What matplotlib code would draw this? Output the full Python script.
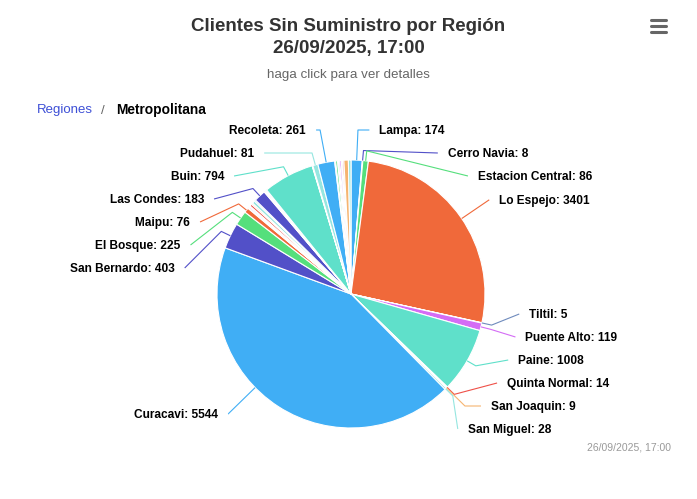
import numpy as np
import matplotlib.pyplot as plt

# datos: clientes sin suministro por comuna (Región Metropolitana)
comunas = ["Lampa", "Cerro Navia", "Estacion Central", "Lo Espejo", "Tiltil",
           "Puente Alto", "Paine", "Quinta Normal", "San Joaquin", "San Miguel",
           "Curacavi", "San Bernardo", "El Bosque", "Maipu", "Santiago",
           "Providencia", "Nunoa", "La Florida", "Penalolen", "La Reina",
           "Macul", "Las Condes", "Vitacura", "Lo Barnechea", "Huechuraba",
           "Conchali", "Buin", "Independencia", "Quilicura", "Pudahuel",
           "Recoleta", "Renca", "Lo Prado", "Cerrillos", "Pedro Aguirre Cerda",
           "La Cisterna", "San Ramon", "La Granja", "La Pintana", "Colina"]
clientes = [174, 8, 86, 3401, 5,
            119, 1008, 14, 9, 28,
            5544, 403, 225, 76, 12,
            20, 15, 35, 22, 45,
            21, 183, 10, 16, 8,
            14, 794, 6, 4, 81,
            261, 15, 30, 12, 20,
            25, 18, 22, 70, 40]
# etiquetas que el grafico alcanza a mostrar
etiquetadas = ["Lampa", "Cerro Navia", "Estacion Central", "Lo Espejo", "Tiltil",
               "Puente Alto", "Paine", "Quinta Normal", "San Joaquin", "San Miguel",
               "Curacavi", "San Bernardo", "El Bosque", "Maipu", "Las Condes",
               "Buin", "Pudahuel", "Recoleta"]

paleta = ["#40aef5", "#5250c8", "#55df7c", "#f0693a", "#6f8bbd",
          "#d46cf5", "#5fe0ca", "#ef5048", "#f6b470", "#95e6e0"]
colores = [paleta[i % len(paleta)] for i in range(len(clientes))]

W, H = 697, 499
cx, cy, r = 351, 294, 134          # centro y radio de la torta (px, y hacia abajo)
lcy, lR = 298, 169                 # circulo de etiquetas
dist = 30
sep = 23
limites = {"der": (130, 429), "izq": (130, 414)}

fig = plt.figure(figsize=(W / 100, H / 100), dpi=100)
ax = fig.add_axes([0, 0, 1, 1])
ax.pie(clientes, colors=colores, startangle=90, counterclock=False,
       radius=r, center=(cx, H - cy),
       wedgeprops=dict(edgecolor="white", linewidth=0.8))
ax.set_xlim(0, W)
ax.set_ylim(0, H)
ax.set_aspect("equal")
ax.axis("off")

fuente = "Liberation Sans"

def punto(ang, rr):
    a = np.radians(ang)
    return cx + rr * np.sin(a), cy - rr * np.cos(a)

total = sum(clientes)
acum = np.cumsum([0] + clientes)
ini = acum[:-1] / total * 360
fin = acum[1:] / total * 360
medio = (ini + fin) / 2


def repartir(objetivos, arriba, abajo):
    grupos = [[t] for t in objetivos]

    def comienzo(g):
        s = np.mean(g) - sep * (len(g) - 1) / 2
        return min(max(s, arriba), abajo - sep * (len(g) - 1))

    i = 0
    while i < len(grupos) - 1:
        f = comienzo(grupos[i]) + sep * (len(grupos[i]) - 1)
        if comienzo(grupos[i + 1]) - f < sep:
            grupos[i] += grupos.pop(i + 1)
            i = max(i - 1, 0)
        else:
            i += 1
    pos = []
    for g in grupos:
        s = comienzo(g)
        pos += [s + sep * k for k in range(len(g))]
    return pos


idx = [comunas.index(c) for c in etiquetadas]
for lado in ["der", "izq"]:
    sel = [i for i in idx if (medio[i] < 180) == (lado == "der")]
    obj = {i: cy - (r + dist) * np.cos(np.radians(medio[i])) for i in sel}
    sel.sort(key=lambda i: obj[i])
    ys = repartir([obj[i] for i in sel], *limites[lado])
    signo = 1 if lado == "der" else -1
    for i, y in zip(sel, ys):
        ang = medio[i]
        # x de la etiqueta sobre el circulo de etiquetas
        x = cx + signo * np.sqrt(max(lR ** 2 - (y - lcy) ** 2, 0))
        # punto del rayo del sector a la altura de la etiqueta
        dy = cy - y
        crookX = cx + dy * np.tan(np.radians(ang))
        if y < cy:
            if lado == "der":
                x = max(x, crookX + 4)
            else:
                x = min(x, crookX - 4)
        # sector grande: el conector apunta hacia la etiqueta
        if fin[i] - ini[i] > 60:
            a_lab = np.degrees(np.arctan2(x - cx, cy - y)) % 360
            ang = min(max(a_lab, ini[i] + 3), fin[i] - 3)
            crookX = cx + dy * np.tan(np.radians(ang))
        toque = punto(ang, r)
        quiebre = punto(ang, r + 10)
        xs, yl = [x], [y]
        if lado == "der" and quiebre[0] <= crookX <= x:
            xs.append(crookX); yl.append(y)
        if lado == "izq" and x <= crookX <= quiebre[0]:
            xs.append(crookX); yl.append(y)
        xs += [quiebre[0], toque[0]]
        yl += [quiebre[1], toque[1]]
        ax.plot(xs, [H - v for v in yl], color=colores[i], lw=0.8,
                solid_capstyle="butt")
        ax.text(x + signo * 10, H - y - 1, f"{comunas[i]}: {clientes[i]}",
                ha="left" if lado == "der" else "right", va="center",
                fontsize=8.6, fontweight="bold", color="#000000", family=fuente)

# titulo y subtitulo
ax.text(W / 2, H - 26, "Clientes Sin Suministro por Región", ha="center", va="center",
        fontsize=13.5, fontweight="bold", color="#333333", family=fuente)
ax.text(W / 2, H - 48, "26/09/2025, 17:00", ha="center", va="center",
        fontsize=13.5, fontweight="bold", color="#333333", family=fuente)
ax.text(W / 2, H - 75, "haga click para ver detalles", ha="center", va="center",
        fontsize=9.6, color="#666666", family=fuente)

# migas de pan
ax.text(37, H - 110, "Regiones", ha="left", va="center", fontsize=9.5,
        color="#3d4fd6", family=fuente)
ax.text(103, H - 111, "/", ha="center", va="center", fontsize=9.5,
        color="#666666", family=fuente)
ax.text(116, H - 110, "Metropolitana", ha="left", va="center", fontsize=9.9,
        fontweight="bold", color="#000000", family=fuente)

# menu
for yy in [19.5, 25.5, 31.5]:
    ax.plot([651, 666], [H - yy, H - yy], color="#666666", lw=2.2,
            solid_capstyle="round")

# creditos
ax.text(671, H - 448, "26/09/2025, 17:00", ha="right", va="center",
        fontsize=7.5, color="#999999", family=fuente)

fig.savefig("out.png", dpi=100)
